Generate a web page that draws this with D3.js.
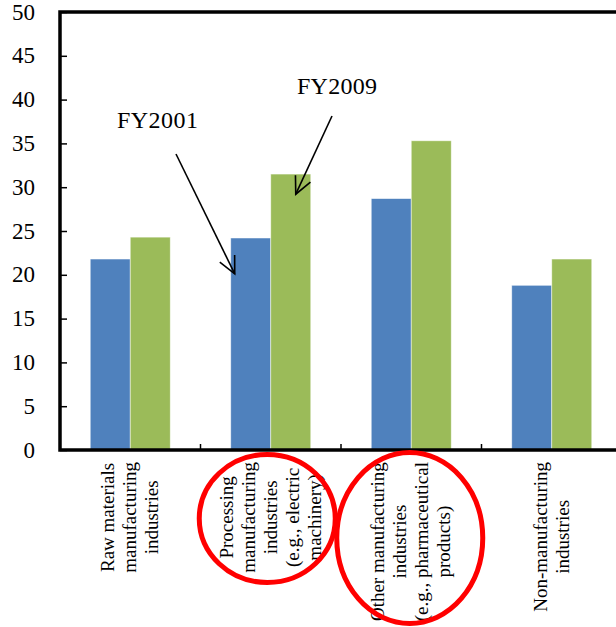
<!DOCTYPE html>
<html>
<head>
<meta charset="utf-8">
<script src="https://cdn.jsdelivr.net/npm/d3@7"></script>
<style>
  html, body { margin: 0; padding: 0; background: #fff; }
  svg { display: block; }
  text { font-family: "Liberation Serif", "Times New Roman", serif; fill: #000; }
</style>
</head>
<body>
<svg id="chart" width="616" height="627"></svg>
<script>
// Category labels (one entry per line of the rotated axis label)
const categories = [
  ["Raw materials", "manufacturing", "industries"],
  ["Processing", "manufacturing", "industries", "(e.g., electric", "machinery)"],
  ["Other manufacturing", "industries", "(e.g., pharmaceutical", "products)"],
  ["Non-manufacturing", "industries"]
];
const seriesNames = ["FY2001", "FY2009"];
const fy2001 = [21.8, 24.2, 28.7, 18.8];
const fy2009 = [24.3, 31.5, 35.3, 21.8];
const yTicks = [0, 5, 10, 15, 20, 25, 30, 35, 40, 45, 50];
const colors = ["#4F81BD", "#9BBB59"];
// Categories singled out with a red ring
const highlighted = [1, 2];

const svg = d3.select("#chart");
const plotLeft = 60, plotRight = 622, plotTop = 12, plotBottom = 450;

const idx = categories.map((d, i) => i);
const x0 = d3.scaleBand().domain(idx).range([plotLeft, plotRight]).padding(0);
const x1 = d3.scaleBand().domain(seriesNames).range([0, x0.bandwidth()])
  .paddingInner(0).paddingOuter(0.756);
const y = d3.scaleLinear().domain([0, 50]).range([plotBottom, plotTop]);

// Bars
const values = [fy2001, fy2009];
const groups = svg.append("g").selectAll("g").data(idx).join("g")
  .attr("transform", i => `translate(${x0(i)},0)`);
groups.selectAll("rect")
  .data(i => seriesNames.map((s, k) => ({ s, k, v: values[k][i] })))
  .join("rect")
  .attr("x", d => x1(d.s))
  .attr("width", x1.bandwidth())
  .attr("y", d => y(d.v))
  .attr("height", d => y(0) - y(d.v))
  .attr("fill", d => colors[d.k])
  .attr("stroke", "rgba(255,255,255,0.6)")
  .attr("stroke-width", 0.8);

// Y axis: labels on the left, tick marks pointing into the plot
const yAxis = d3.axisRight(y).tickValues(yTicks).tickSize(7).tickFormat("");
svg.append("g").attr("transform", `translate(${plotLeft},0)`).call(yAxis)
  .call(g => g.select(".domain").remove())
  .call(g => g.selectAll("line").attr("stroke", "#000").attr("stroke-width", 1.5));
svg.append("g").selectAll("text").data(yTicks).join("text")
  .attr("x", 35)
  .attr("y", d => y(d))
  .attr("dy", "0.33em")
  .attr("text-anchor", "end")
  .attr("font-size", 23)
  .text(d => d);

// X axis tick marks between categories, pointing up
const xBounds = idx.slice(1).map(i => x0(i));
svg.append("g").selectAll("line").data(xBounds).join("line")
  .attr("x1", d => d).attr("x2", d => d)
  .attr("y1", plotBottom).attr("y2", plotBottom - 6)
  .attr("stroke", "#000").attr("stroke-width", 1.5);

// Plot frame
svg.append("rect")
  .attr("x", plotLeft).attr("y", plotTop)
  .attr("width", plotRight - plotLeft).attr("height", plotBottom - plotTop)
  .attr("fill", "none").attr("stroke", "#000").attr("stroke-width", 3.5);

// Rotated category labels: lines centred on each other, block hung from the axis
const lineGap = 22;
const labelTop = 462;
categories.forEach((lines, i) => {
  const cx = x0(i) + x0.bandwidth() / 2;
  const g = svg.append("g");
  const texts = g.selectAll("text").data(lines).join("text")
    .attr("font-size", 19)
    .attr("text-anchor", "middle")
    .text(d => d);
  const maxLen = d3.max(texts.nodes(), n => n.getComputedTextLength());
  const cy = labelTop + maxLen / 2;
  texts.attr("transform", (d, k) => {
    const lx = cx + (k - (lines.length - 1) / 2) * lineGap + 6;
    return `translate(${lx},${cy}) rotate(-90)`;
  });
});

// Red rings around highlighted categories
const ringSpec = [
  { cy: 518.5, rx: 68, ry: 64, dx: -3.5 },
  { cy: 538, rx: 73, ry: 85.5, dx: -1.5 }
];
highlighted.forEach((ci, k) => {
  svg.append("ellipse")
    .attr("cx", x0(ci) + x0.bandwidth() / 2 + ringSpec[k].dx)
    .attr("cy", ringSpec[k].cy)
    .attr("rx", ringSpec[k].rx)
    .attr("ry", ringSpec[k].ry)
    .attr("fill", "none")
    .attr("stroke", "#FF0000")
    .attr("stroke-width", 5);
});

// Series call-outs with open arrowheads pointing at the second category's bars
function arrow(xa, ya, xb, yb) {
  const ang = Math.atan2(yb - ya, xb - xa);
  const len = 19, spread = 0.45;
  const g = svg.append("g").attr("stroke", "#000").attr("stroke-width", 1.6).attr("fill", "none");
  g.append("line").attr("x1", xa).attr("y1", ya).attr("x2", xb).attr("y2", yb);
  g.append("path").attr("d",
    `M${xb - len * Math.cos(ang - spread)},${yb - len * Math.sin(ang - spread)}` +
    `L${xb},${yb}` +
    `L${xb - len * Math.cos(ang + spread)},${yb - len * Math.sin(ang + spread)}`);
}
const bar2001 = x0(1) + x1(seriesNames[0]) + x1.bandwidth() / 2;
const bar2009 = x0(1) + x1(seriesNames[1]) + x1.bandwidth() / 2;
svg.append("text").attr("x", 117).attr("y", 128).attr("font-size", 24)
  .attr("textLength", 81).text(seriesNames[0]);
arrow(176, 154, bar2001 - 16, y(20.1));
svg.append("text").attr("x", 297).attr("y", 94).attr("font-size", 24)
  .attr("textLength", 80).text(seriesNames[1]);
arrow(332, 116, bar2009 + 5, y(29.2));
</script>
</body>
</html>
